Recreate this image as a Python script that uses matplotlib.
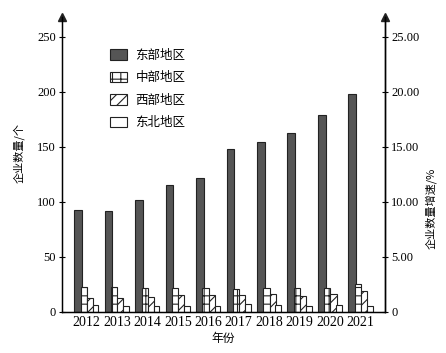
import matplotlib
matplotlib.use("Agg")
import matplotlib.pyplot as plt
import numpy as np

plt.rcParams['font.family'] = ['Liberation Serif', 'Noto Sans CJK SC']
plt.rcParams['hatch.linewidth'] = 0.8

years = ["2012", "2013", "2014", "2015", "2016", "2017", "2018", "2019", "2020", "2021"]
east = [93, 92, 102, 115, 122, 148, 154, 163, 179, 198]
central = [22.5, 22.5, 22, 21.5, 22, 21, 22, 22, 22, 25.5]
west = [13, 12.5, 13.5, 15, 15.5, 15.5, 16, 14.5, 16, 19.5]
northeast = [6, 5.5, 5.5, 5.5, 5.5, 7, 6, 5.5, 6, 5]
regions = ["东部地区", "中部地区", "西部地区", "东北地区"]

fig = plt.figure(figsize=(4.46, 3.53), dpi=100)
ax = fig.add_axes([62 / 446, 1 - 312 / 353, (385 - 62) / 446, 295 / 353])
x = np.arange(len(years))

ax.bar(x - 0.275, east, 0.25, color='#555555', edgecolor='#222222', linewidth=0.8, label=regions[0])
ax.bar(x - 0.09, central, 0.2, color='white', edgecolor='#222222', hatch='++', linewidth=0.8, label=regions[1])
ax.bar(x + 0.11, west, 0.2, color='white', edgecolor='#222222', hatch='///', linewidth=0.8, label=regions[2])
ax.bar(x + 0.30, northeast, 0.19, color='white', edgecolor='#222222', linewidth=0.8, label=regions[3])

ax.set_xlim(-0.8, 9.8)
ax.set_ylim(0, 268)
ax.set_yticks([0, 50, 100, 150, 200, 250])
ax.set_xticks(x)
ax.set_xticklabels(years, fontsize=10)
ax.tick_params(axis='x', length=0, pad=3)
ax.tick_params(axis='y', direction='inout', length=5, labelsize=9, pad=2)
ax.spines['top'].set_visible(False)
for s in ['left', 'bottom', 'right']:
    ax.spines[s].set_linewidth(1.0)

ax2 = ax.twinx()
ax2.set_ylim(0, 26.8)
ax2.set_yticks([0, 5, 10, 15, 20, 25])
ax2.set_yticklabels(["0", "5.00", "10.00", "15.00", "20.00", "25.00"])
ax2.tick_params(axis='y', direction='inout', length=5, labelsize=9, pad=2)
ax2.spines['top'].set_visible(False)
ax2.spines['right'].set_linewidth(1.0)

# arrows at top of both vertical axes
for xa in [0, 1]:
    ax.plot([xa], [1.0], marker='^', color='#222222', markersize=6,
            transform=ax.transAxes, clip_on=False)

ax.set_ylabel("企业数量/个", fontsize=8, family=['Noto Sans CJK SC'])
ax.yaxis.set_label_coords(-0.115, 0.54)
ax2.set_ylabel("企业数量增速/%", fontsize=8, family=['Noto Sans CJK SC'], rotation=90)
ax2.yaxis.set_label_coords(1.125, 0.35)
ax.set_xlabel("年份", fontsize=8.5, family=['Noto Sans CJK SC'], labelpad=2)

leg = ax.legend(loc='upper left', bbox_to_anchor=(0.115, 0.93), frameon=False,
                prop={'family': 'Noto Sans CJK SC', 'size': 9},
                handlelength=1.3, handleheight=0.9, labelspacing=0.75, handletextpad=0.7)

fig.savefig("out.png", dpi=100)
